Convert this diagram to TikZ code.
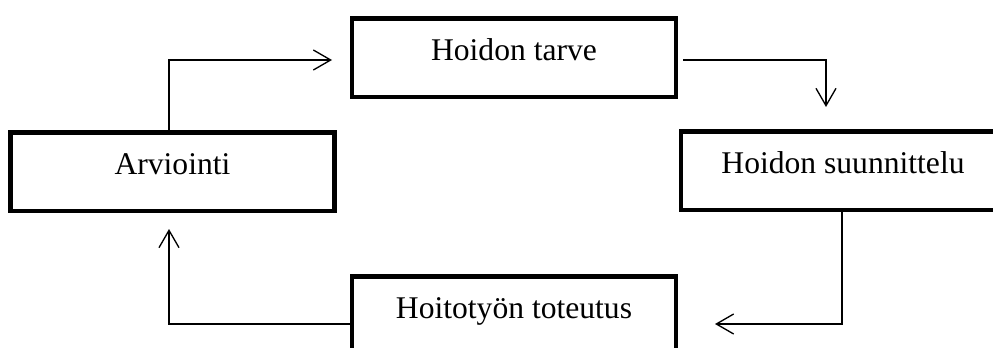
\documentclass[tikz,border=0pt]{standalone}
\usepackage{fontspec}
\setmainfont{Liberation Serif}
\usepackage{tikz}
\usetikzlibrary{arrows.meta}

\begin{document}
\begin{tikzpicture}[x=0.75pt,y=0.75pt,
  phase/.style={draw=drawColor,line width=3.6pt,rectangle,inner sep=0pt,
    minimum width=243pt,text height=31.5pt,text depth=27.5pt,anchor=north,
    font=\fontsize{23.7}{28}\selectfont},
  flow/.style={draw=drawColor,line width=1pt,-{Straight Barb[length=13pt,width=15pt,line width=1pt]}}]
\definecolor{drawColor}{RGB}{0,0,0}
\useasboundingbox (0,0) rectangle (993,347);
\clip (0,0) rectangle (993,347);

\node[phase] (tarve) at (514,331) {Hoidon tarve};
\node[phase] (arv) at (172.5,217) {Arviointi};
\node[phase] (suun) at (843,218) {Hoidon suunnittelu};
\node[phase] (tot) at (514,73) {Hoitotyön toteutus};

\coordinate (tarveIn) at (332,287);
\coordinate (suunIn) at (826,240);
\coordinate (totIn) at (715,23);
\coordinate (arvIn) at (169,118);

\draw[flow] (arv.north -| arvIn) |- (tarveIn);
\draw[flow] ([xshift=3.75pt]tarve.east |- tarveIn) -| (suunIn);
\draw[flow] (suun.south -| 842,0) |- (totIn);
\draw[flow] (tot.west |- totIn) -| (arvIn);
\end{tikzpicture}
\end{document}
